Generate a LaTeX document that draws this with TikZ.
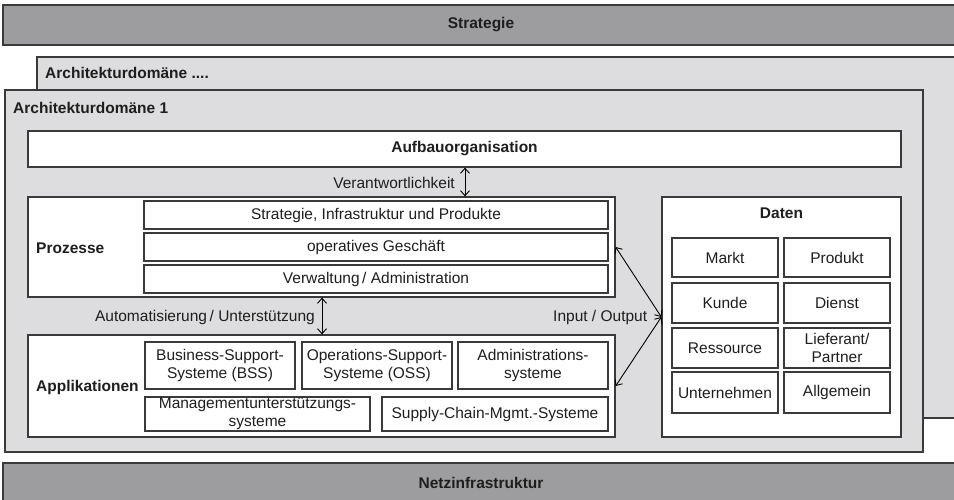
\documentclass[tikz,border=0pt]{standalone}
\usepackage{fontspec}
\setmainfont{Liberation Sans}
\usepackage{tikz}
\usetikzlibrary{arrows, arrows.meta, positioning, backgrounds}
\definecolor{bargray}{HTML}{9D9DA0}
\definecolor{archgray}{HTML}{DDDDDF}
\definecolor{edgegray}{HTML}{3A3A3A}
\definecolor{inkblack}{HTML}{1E1E1E}

\begin{document}
\begin{tikzpicture}[
            x=1pt, y=-1pt,
            every node/.style={
                font=\fontsize{15.5}{18}\selectfont,
                text=inkblack,
                inner sep=0pt
            },
            heading/.style={font=\fontsize{15.5}{18}\selectfont\bfseries},
            layerbar/.style={draw=edgegray, line width=1.3pt, fill=bargray, font=\fontsize{15.5}{18}\selectfont\bfseries},
            archbox/.style={draw=edgegray, line width=1.3pt, fill=archgray},
            wbox/.style={draw=edgegray, line width=1.3pt, fill=white, align=center},
            conn/.style={{Straight Barb[length=5pt, width=9pt]}-{Straight Barb[length=5pt, width=9pt]}, line width=0.9pt, black}
        ]
        \useasboundingbox (0,0) rectangle (954,499);

        % Schichten oben und unten
        \node[layerbar, minimum width=956pt, minimum height=40pt] (strategie) at (481,25) {Strategie};
        \node[layerbar, minimum width=956pt, minimum height=40pt] (netz) at (481,483) {Netzinfrastruktur};

        % Architekturdomaenen
        \node[archbox, minimum width=921pt, minimum height=361pt] (domainN) at (497.5,237.5) {};
        \node[heading, anchor=west] (domainNlabel) at (45,73) {Architekturdomäne ....};
        \node[archbox, minimum width=918pt, minimum height=362pt] (domain1) at (464,271) {};
        \node[heading, anchor=west] (domain1label) at (13,108) {Architekturdomäne 1};

        \node[wbox, heading, minimum width=873pt, minimum height=36pt] (aufbau) at (464.5,149) {Aufbauorganisation};

        % Prozesse
        \node[wbox, minimum width=587pt, minimum height=100pt] (prozesse) at (321.5,247) {};
        \node[heading, anchor=west] (prozesselabel) at (36,248) {Prozesse};
        \node[wbox, minimum width=464pt, minimum height=28pt] (pstrat) at (376,215) {Strategie, Infrastruktur und Produkte};
        \node[wbox, minimum width=464pt, minimum height=28pt] (pops) at (376,247) {operatives Geschäft};
        \node[wbox, minimum width=464pt, minimum height=28pt] (pverw) at (376,279) {Verwaltung\,/ Administration};

        % Applikationen
        \node[wbox, minimum width=587pt, minimum height=102pt] (applikationen) at (321.5,386) {};
        \node[heading, anchor=west] (applabel) at (36,387) {Applikationen};
        \node[wbox, minimum width=150pt, minimum height=47pt] (bss) at (220,365.5) {Business-Support-\\Systeme (BSS)};
        \node[wbox, minimum width=150pt, minimum height=47pt] (oss) at (377,365.5) {Operations-Support-\\Systeme (OSS)};
        \node[wbox, minimum width=150pt, minimum height=47pt] (adminsys) at (533,365.5) {Administrations-\\systeme};
        \node[wbox, minimum width=225pt, minimum height=34pt] (mgmt) at (257.5,414) {Managementunterstützungs-\\systeme};
        \node[wbox, minimum width=226pt, minimum height=34pt] (supply) at (495,414) {Supply-Chain-Mgmt.-Systeme};

        % Daten
        \node[wbox, minimum width=239pt, minimum height=240pt] (daten) at (781.5,317) {};
        \node[heading] (datenlabel) at (781.5,213) {Daten};
        \node[wbox, minimum width=106pt, minimum height=39pt] (markt) at (725,257.5) {Markt};
        \node[wbox, minimum width=106pt, minimum height=39pt] (produkt) at (837,257.5) {Produkt};
        \node[wbox, minimum width=106pt, minimum height=40pt] (kunde) at (725,303) {Kunde};
        \node[wbox, minimum width=106pt, minimum height=40pt] (dienst) at (837,303) {Dienst};
        \node[wbox, minimum width=106pt, minimum height=40pt] (ressource) at (725,348) {Ressource};
        \node[wbox, minimum width=106pt, minimum height=40pt] (lieferant) at (837,348) {Lieferant/\\Partner};
        \node[wbox, minimum width=106pt, minimum height=41pt] (unternehmen) at (725,392.5) {Unternehmen};
        \node[wbox, minimum width=106pt, minimum height=41pt] (allgemein) at (837,392.5) {Allgemein};

        % Beziehungen
        \coordinate (vx) at (465,0);
        \draw[conn] (aufbau.south -| vx) -- (prozesse.north -| vx);
        \node[anchor=east] (verantlabel) at (455,183) {Verantwortlichkeit};

        \coordinate (ax) at (322,0);
        \draw[conn] (prozesse.south -| ax) -- (applikationen.north -| ax);
        \node[anchor=east] (autolabel) at (315,317) {Automatisierung\,/ Unterstützung};

        \draw[conn] (daten.west) -- (prozesse.east);
        \draw[conn] (daten.west) -- (applikationen.east);
        \node[left=14pt of daten.west] (iolabel) {Input / Output};
    \end{tikzpicture}
\end{document}
